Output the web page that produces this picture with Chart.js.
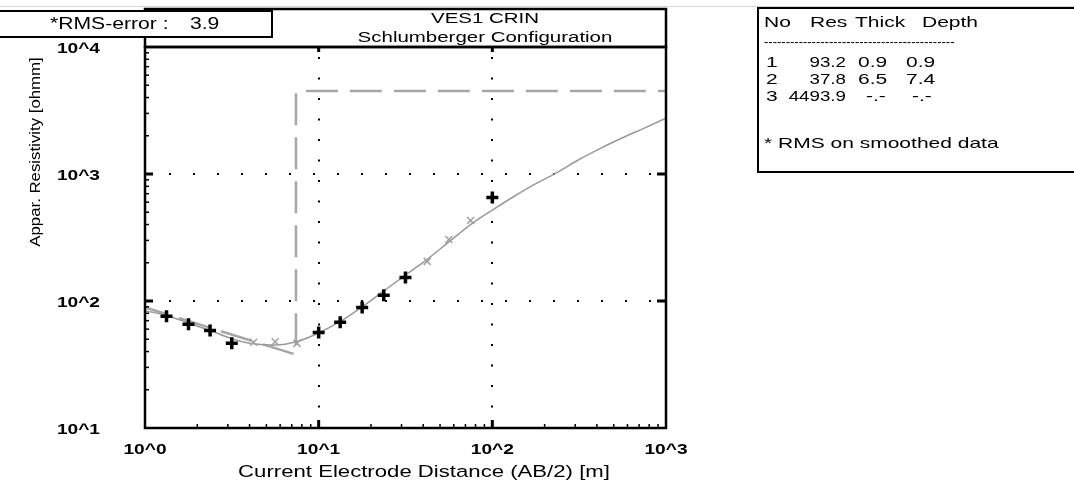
<!DOCTYPE html>
<html>
<head>
<meta charset="utf-8">
<script src="https://cdn.jsdelivr.net/npm/chart.js@4.4.1/dist/chart.umd.min.js"></script>
<style>
  html, body { margin: 0; padding: 0; background: #fff; }
  canvas { display: block; }
</style>
</head>
<body>
<canvas id="vesChart" width="1074" height="487"></canvas>
<script>
// VES sounding data (AB/2 in m, apparent resistivity in ohmm)
const plusAB = [1.33, 1.78, 2.37, 3.16, 10, 13.3, 17.8, 23.7, 31.6, 100];
const plusRho = [75.7, 65.5, 58.7, 46.4, 56.6, 67.9, 89, 111, 153, 652];
const crossAB = [4.22, 5.62, 7.5, 42.2, 56.2, 75];
const crossRho = [47.3, 47.8, 46.4, 205, 305, 430];

// fitted model curve
const fitAB = [1, 1.33, 1.78, 2.37, 3.16, 4.22, 5.62, 7.5, 10, 13.3, 17.8, 23.7, 31.6, 42.2, 56.2, 75, 100, 133, 178, 237, 316, 422, 562, 750, 1000];
const fitRho = [84, 77, 67, 58.5, 50.5, 46, 45, 48, 56, 69, 90, 120, 160, 213, 292, 400, 520, 665, 840, 1030, 1300, 1600, 1930, 2300, 2750];

// layer model
const layerNo = ['1', '2', '3'];
const layerRes = [93.2, 37.8, 4493.9];
const layerThick = ['0.9', '6.5', '-.-'];
const layerDepth = [0.9, 7.4];
const layerDepthTxt = ['0.9', '7.4', '-.-'];

// axis ticks
const xTickVals = [1, 10, 100, 1000];
const xTickLabels = ['10^0', '10^1', '10^2', '10^3'];
const yTickVals = [10, 100, 1000, 10000];
const yTickLabels = ['10^1', '10^2', '10^3', '10^4'];

const rmsError = '3.9';
const FONT = "'Liberation Sans', Arial, sans-serif";
const SX = 1.32;  // text in the original is stretched horizontally
const TSX = 1.4;  // table text

function toPoints(xs, ys) {
    return xs.map((x, i) => ({ x: x, y: ys[i] }));
}

// step model drawn as in the original program
const layerLine = [
    { x: layerDepth[0], y: layerRes[0] },
    { x: layerDepth[1], y: layerRes[1] },
    { x: layerDepth[1], y: layerRes[2] },
    { x: 1000, y: layerRes[2] }
];

function drawText(ctx, s, x, y, font, align, sx) {
    ctx.save();
    ctx.font = font;
    ctx.textBaseline = 'middle';
    ctx.textAlign = 'left';
    const w = ctx.measureText(s).width * sx;
    const x0 = align === 'center' ? x - w / 2 : (align === 'right' ? x - w : x);
    ctx.translate(x0, y);
    ctx.scale(sx, 1);
    ctx.fillText(s, 0, 0);
    ctx.restore();
}

function line(ctx, x1, y1, x2, y2) {
    ctx.beginPath();
    ctx.moveTo(x1, y1);
    ctx.lineTo(x2, y2);
    ctx.stroke();
}

const decor = {
    id: 'decor',
    beforeDatasetsDraw(chart) {
        const ctx = chart.ctx;
        const a = chart.chartArea;
        const xs = chart.scales.x, ys = chart.scales.y;
        ctx.save();
        ctx.strokeStyle = '#000';
        ctx.lineWidth = 2;
        // dotted grid at inner decades
        ctx.setLineDash([2, 18.5]);
        xTickVals.slice(1, -1).forEach(v => {
            const px = Math.round(xs.getPixelForValue(v));
            line(ctx, px, a.bottom, px, a.top);
        });
        ctx.setLineDash([2, 22]);
        yTickVals.slice(1, -1).forEach(v => {
            const py = Math.round(ys.getPixelForValue(v));
            line(ctx, a.left, py, a.right, py);
        });
        ctx.restore();
    },
    afterDraw(chart) {
        const ctx = chart.ctx;
        const a = chart.chartArea;
        const xs = chart.scales.x, ys = chart.scales.y;
        ctx.save();
        ctx.fillStyle = '#000';

        // light line across the top of the page
        ctx.strokeStyle = '#d4d4d4';
        ctx.lineWidth = 1;
        line(ctx, 0, 6.5, 1074, 6.5);

        // minor ticks on left and bottom
        ctx.strokeStyle = '#000';
        ctx.lineWidth = 1.5;
        [1, 10, 100].forEach(d => {
            for (let k = 2; k <= 9; k++) {
                const px = xs.getPixelForValue(d * k);
                line(ctx, px, a.bottom, px, a.bottom - 4);
            }
        });
        [10, 100, 1000].forEach(d => {
            for (let k = 2; k <= 9; k++) {
                const py = ys.getPixelForValue(d * k);
                line(ctx, a.left, py, a.left + 4, py);
            }
        });
        // major ticks
        ctx.lineWidth = 3;
        xTickVals.slice(1, -1).forEach(v => {
            const px = xs.getPixelForValue(v);
            line(ctx, px, a.bottom, px, a.bottom - 8);
            line(ctx, px, a.top, px, a.top + 5);
        });
        yTickVals.slice(1, -1).forEach(v => {
            const py = ys.getPixelForValue(v);
            line(ctx, a.left, py, a.left + 8, py);
            line(ctx, a.right, py, a.right - 9, py);
        });

        // plot frame and title box
        ctx.lineWidth = 2.5;
        ctx.strokeRect(a.left, a.top, a.right - a.left, a.bottom - a.top);
        ctx.strokeRect(a.left, 9, a.right - a.left, a.top - 9);

        // tick labels
        xTickVals.forEach((v, i) => {
            drawText(ctx, xTickLabels[i], xs.getPixelForValue(v), a.bottom + 22, 'bold 14.5px ' + FONT, 'center', SX);
        });
        yTickVals.forEach((v, i) => {
            drawText(ctx, yTickLabels[i], 100, ys.getPixelForValue(v) + 2, 'bold 14.5px ' + FONT, 'right', SX);
        });

        // axis titles
        drawText(ctx, 'Current Electrode Distance (AB/2) [m]', 424, 472, '16.8px ' + FONT, 'center', SX);
        ctx.save();
        ctx.translate(36, 152);
        ctx.rotate(-Math.PI / 2);
        drawText(ctx, 'Appar. Resistivity [ohmm]', 0, 0, '15px ' + FONT, 'center', 1.12);
        ctx.restore();

        // chart title
        drawText(ctx, 'VES1 CRIN', 485, 19, '15.5px ' + FONT, 'center', SX);
        drawText(ctx, 'Schlumberger Configuration', 485, 38, '15.5px ' + FONT, 'center', SX);

        // RMS box
        ctx.lineWidth = 2;
        ctx.fillStyle = '#fff';
        ctx.fillRect(-2, 11, 274, 26);
        ctx.strokeRect(-2, 11, 274, 26);
        ctx.fillStyle = '#000';
        drawText(ctx, '*RMS-error :', 50, 25, '16px ' + FONT, 'left', SX);
        drawText(ctx, rmsError, 190, 25, '16px ' + FONT, 'left', SX);

        // layer table
        ctx.strokeRect(758, 8, 330, 164);
        const tf = '15px ' + FONT;
        drawText(ctx, 'No', 764, 23, tf, 'left', TSX);
        drawText(ctx, 'Res', 810, 23, tf, 'left', TSX);
        drawText(ctx, 'Thick', 855, 23, tf, 'left', TSX);
        drawText(ctx, 'Depth', 922, 23, tf, 'left', TSX);
        drawText(ctx, '--------------------------------------------', 764, 42, '13px ' + FONT, 'left', 1.0);
        const rowY = [63, 80, 97];
        layerNo.forEach((n, i) => {
            const y = rowY[i];
            drawText(ctx, n, 766, y, tf, 'left', TSX);
            drawText(ctx, layerRes[i].toFixed(1), 846, y, tf, 'right', 1.25);
            drawText(ctx, layerThick[i], i === 2 ? 866 : 858, y, tf, 'left', TSX);
            drawText(ctx, layerDepthTxt[i], i === 2 ? 912 : 906, y, tf, 'left', TSX);
        });
        drawText(ctx, '* RMS on smoothed data', 764, 144, tf, 'left', TSX);
        ctx.restore();
    }
};

const ctx = document.getElementById('vesChart').getContext('2d');
new Chart(ctx, {
    type: 'scatter',
    data: {
        datasets: [{
            label: 'Model curve',
            data: toPoints(fitAB, fitRho),
            showLine: true,
            borderColor: '#999999',
            borderWidth: 1.5,
            pointRadius: 0,
            cubicInterpolationMode: 'monotone',
            order: 3
        }, {
            label: 'Layers',
            data: layerLine,
            showLine: true,
            borderColor: '#a6a6a6',
            borderWidth: 2.5,
            borderDash: [32, 12],
            pointRadius: 0,
            order: 4
        }, {
            label: 'Smoothed',
            data: toPoints(crossAB, crossRho),
            pointStyle: 'crossRot',
            pointRadius: 5,
            borderColor: '#a0a0a0',
            borderWidth: 1.5,
            order: 2
        }, {
            label: 'Measured',
            data: toPoints(plusAB, plusRho),
            pointStyle: 'cross',
            pointRadius: 6,
            borderColor: '#000',
            borderWidth: 3.5,
            order: 1
        }]
    },
    options: {
        responsive: false,
        animation: false,
        events: [],
        layout: { padding: { left: 145, right: 408, top: 47, bottom: 59 } },
        plugins: {
            legend: { display: false },
            tooltip: { enabled: false }
        },
        scales: {
            x: { type: 'logarithmic', min: 1, max: 1000, display: false },
            y: { type: 'logarithmic', min: 10, max: 10000, display: false }
        }
    },
    plugins: [decor]
});
</script>
</body>
</html>
